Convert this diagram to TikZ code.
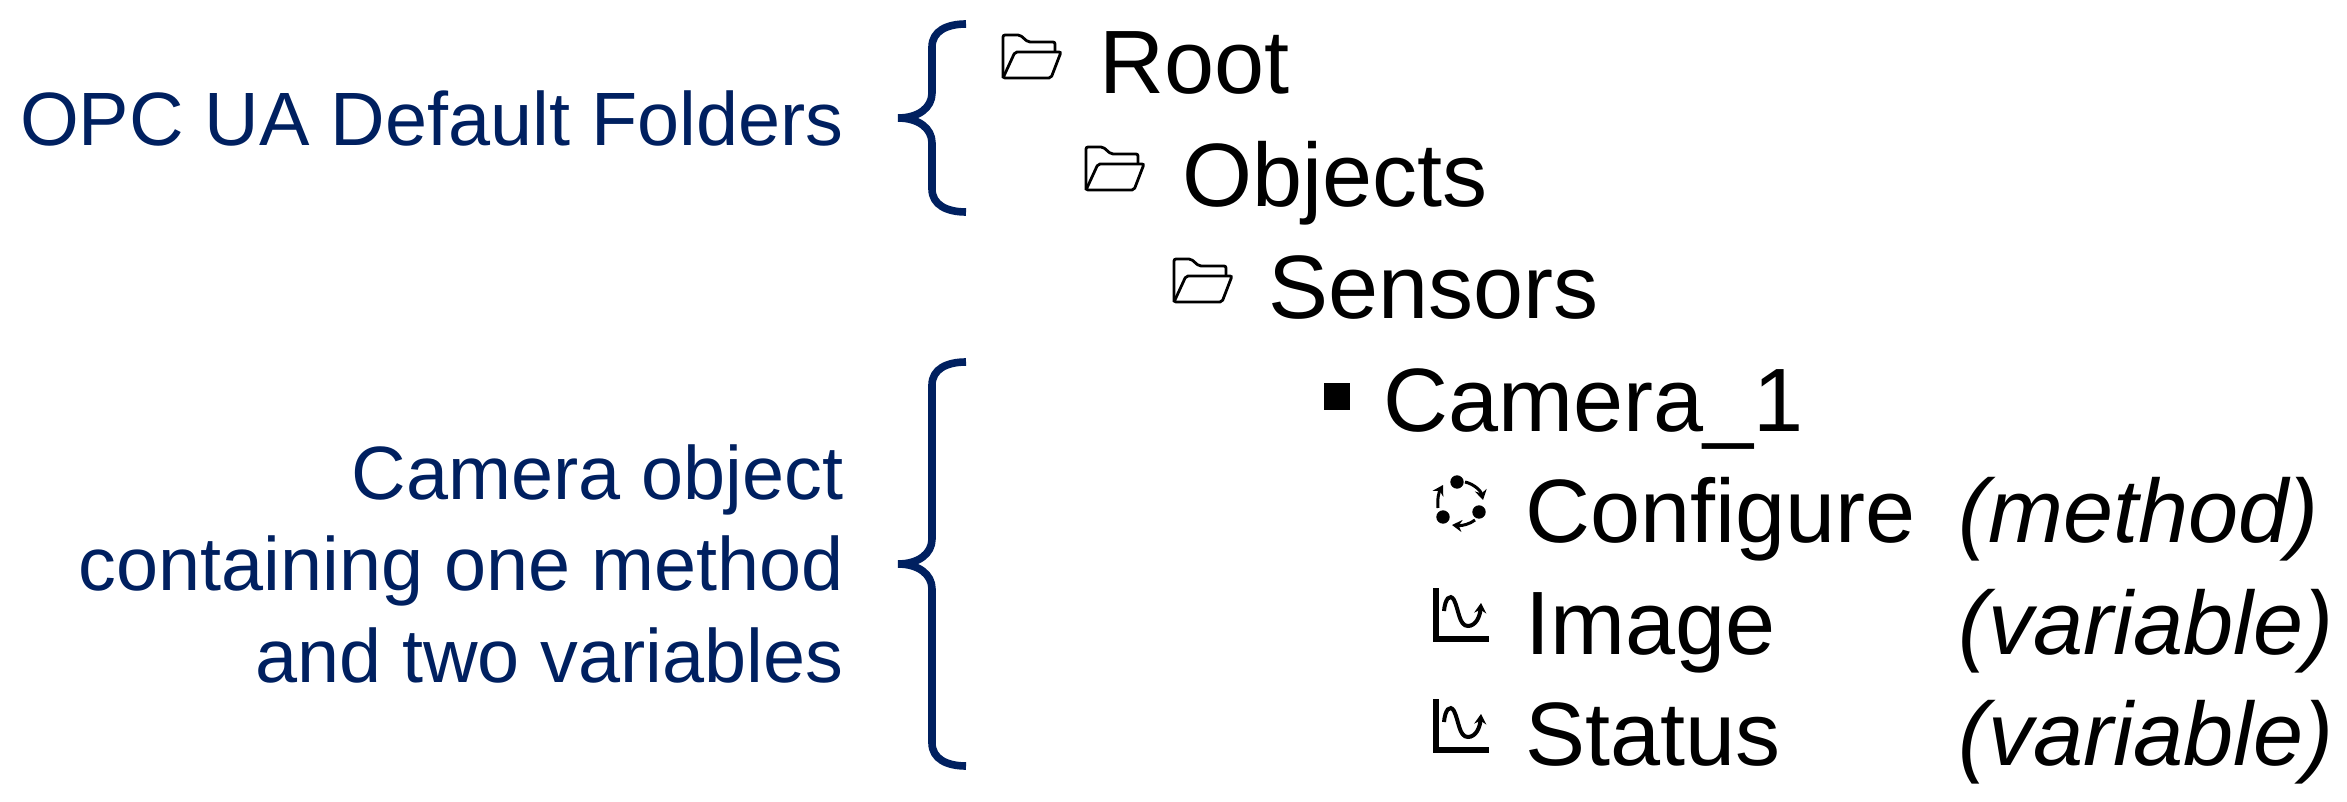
\documentclass[tikz,border=0pt]{standalone}
\usepackage{fontspec}
\setmainfont{Liberation Sans}
\usetikzlibrary{arrows.meta}
\definecolor{navy}{RGB}{0,32,96}
\tikzset{
>={Stealth[length=5pt,width=6pt]}, % small solid heads on the icons
item/.style={anchor=base west, inner sep=0pt, font=\fontsize{45}{54}\selectfont}, % tree entries
kind/.style={item, font=\fontsize{45}{54}\selectfont\itshape}, % method, variable
caption/.style={anchor=base east, inner sep=0pt, align=right, text=navy, font=\fontsize{37.8}{45.7}\selectfont}, % left side texts
brace/.style={draw=navy, line width=3.8pt, line join=bevel}, % big curly brackets
folder/.pic={
        \draw[line width=1.4pt, rounded corners=1pt] (0,43) -- (0,0) -- (17,0) -- (25,7) -- (52,7) -- (52,17);
        \draw[line width=1.4pt, rounded corners=1pt] (0,43) -- (12,17) -- (58,17) -- (48,43) -- cycle;
},
trend/.pic={
        \draw[line width=2.7pt] (0,0) -- (0,51) -- (53,51);
        \draw[->, line width=2pt] (8,23) .. controls (9,11) and (14,5) .. (18,12) .. controls (23,22) and (23,38) .. (32,38) .. controls (40,38) and (44,28) .. (45,15);
},
cycle dots/.pic={
        \fill (-4,-21) circle (6.7) (18,9) circle (6.7) (-18,14) circle (6.7);
        \draw[->, line width=1.5pt] (4,-21) .. controls (13,-19) and (20,-12) .. (22,-3);
        \draw[->, line width=1.5pt] (14,17) .. controls (9,21) and (1,23) .. (-9,22);
        \draw[->, line width=1.5pt] (-23,5) .. controls (-24,-4) and (-22,-11) .. (-18,-18);
},
}
\begin{document}
\begin{tikzpicture}[x=0.5pt, y=-0.5pt]
        \useasboundingbox (0,0) rectangle (2347,802);
        % left side
        \node[caption] (defaults) at (844,146) {OPC UA Default Folders};
        \node[caption] (camera) at (844,682) {Camera object\\containing one method\\and two variables};
        \draw[brace] (966,24) .. controls (947,24) and (932,31) .. (932,47) -- (932,93) .. controls (932,108) and (918,118) .. (898,118) .. controls (918,118) and (932,128) .. (932,143) -- (932,189) .. controls (932,205) and (947,212) .. (966,212);
        \draw[brace] (966,362) .. controls (947,362) and (932,369) .. (932,385) -- (932,539) .. controls (932,554) and (918,564) .. (898,564) .. controls (918,564) and (932,574) .. (932,589) -- (932,743) .. controls (932,759) and (947,766) .. (966,766);
        % tree
        \pic at (1003,35) {folder};
        \pic at (1086,147) {folder};
        \pic at (1174,259) {folder};
        \fill (1324,383) rectangle (1350,410);
        \pic at (1461,503) {cycle dots};
        \pic at (1436,588) {trend};
        \pic at (1436,699) {trend};
        \node[item] (root) at (1099,94) {Root};
        \node[item] (objects) at (1182,207) {Objects};
        \node[item] (sensors) at (1268,319) {Sensors};
        \node[item] (cam) at (1383,431) {Camera\_1};
        \node[item] (configure) at (1525,542) {Configure};
        \node[item] (image) at (1525,654) {Image};
        \node[item] (status) at (1525,765) {Status};
        \node[kind] (method) at (1958,542) {(method)};
        \node[kind] (var1) at (1958,654) {(variable)};
        \node[kind] (var2) at (1958,765) {(variable)};
\end{tikzpicture}
\end{document}
